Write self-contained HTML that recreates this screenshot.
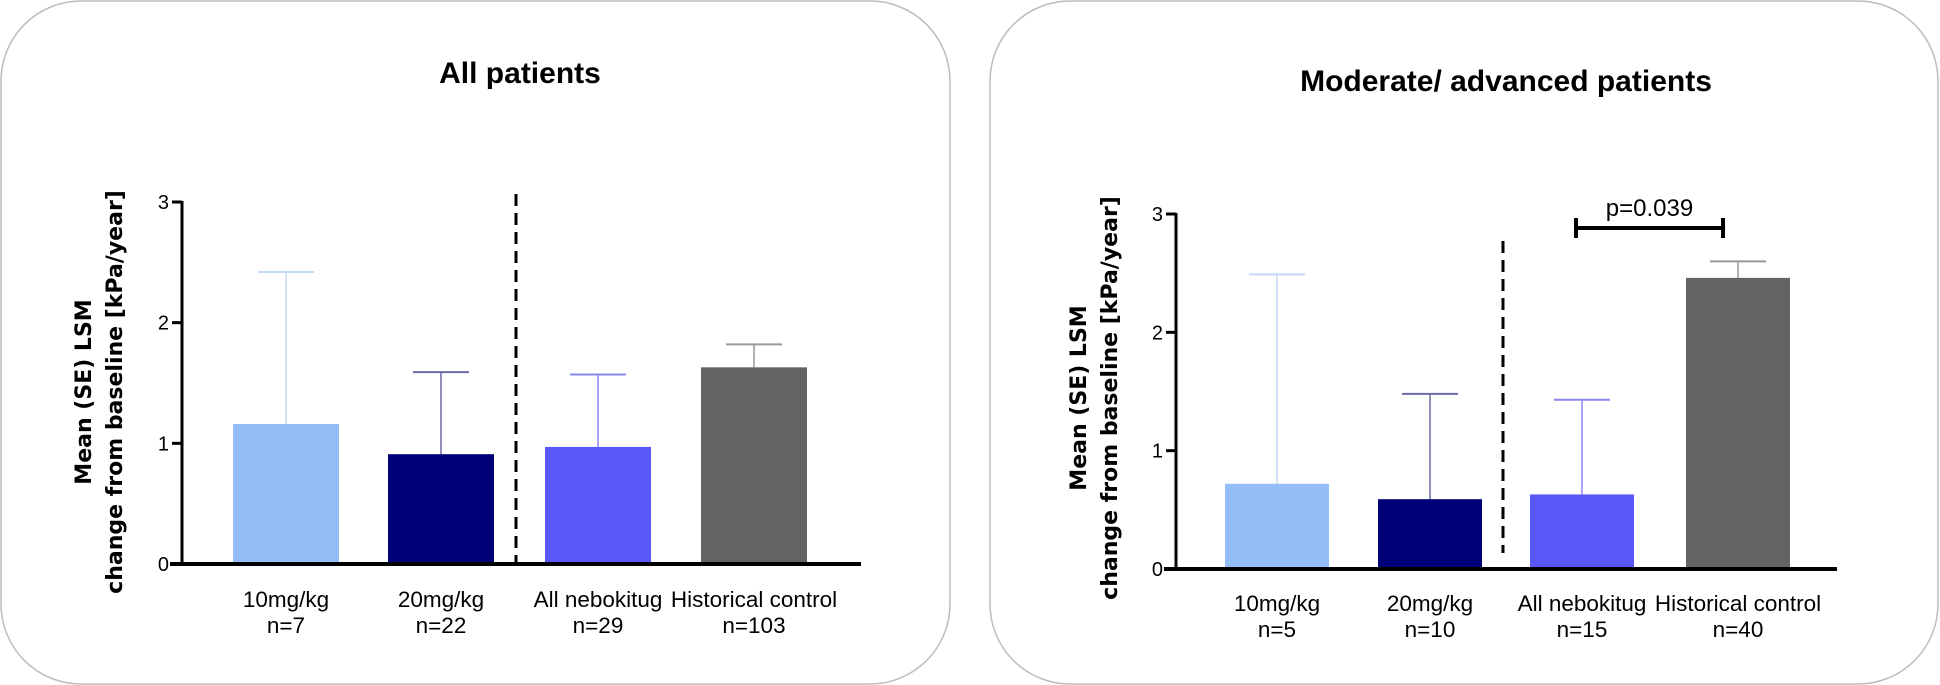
<!DOCTYPE html>
<html><head><meta charset="utf-8">
<style>
html,body{margin:0;padding:0;background:#fff;width:1940px;height:685px;overflow:hidden;}
svg{display:block;font-family:"Liberation Sans",sans-serif;}
.narrow{font-family:"Liberation Sans Narrow","Liberation Sans",sans-serif;}
</style></head>
<body>
<svg id="svg" width="1940" height="685" viewBox="0 0 1940 685">
  <rect x="1" y="1" width="949" height="683" rx="80" fill="#fff" stroke="#bdbdbd" stroke-width="1.5"/>
  <rect x="990" y="1" width="948" height="683" rx="80" fill="#fff" stroke="#bdbdbd" stroke-width="1.5"/>
  <g id="left"></g>
  <g id="right"></g>
</svg>
<script>
const categories = ["10mg/kg", "20mg/kg", "All nebokitug", "Historical control"];
const leftN = ["n=7", "n=22", "n=29", "n=103"];
const rightN = ["n=5", "n=10", "n=15", "n=40"];
const leftValues = [1.16, 0.91, 0.97, 1.63];
const leftErrTop = [2.42, 1.59, 1.57, 1.82];
const rightValues = [0.72, 0.59, 0.63, 2.46];
const rightErrTop = [2.49, 1.48, 1.43, 2.60];
const yTicks = [0, 1, 2, 3];
const pLabel = "p=0.039";

const barColors = ["#92bdf6", "#000077", "#5a57f8", "#636363"];
const errColors = ["#c5d8f5", "#6b6ba8", "#8a88f0", "#999999"];
const NS = "http://www.w3.org/2000/svg";
function mk(tag, attrs, parent) {
  const e = document.createElementNS(NS, tag);
  for (const k in attrs) e.setAttribute(k, attrs[k]);
  parent.appendChild(e);
  return e;
}

function drawChart(g, cfg) {
  const y = v => cfg.y0 - v * (cfg.y0 - cfg.y3) / 3;
  const t = mk("text", {x: cfg.titleX, y: cfg.titleY, "text-anchor": "middle", "font-size": 30, "font-weight": "bold", fill: "#000"}, g);
  t.textContent = cfg.title;
  
  
  const yl = mk("text", {transform: `translate(${cfg.ylX},${cfg.ylY}) rotate(-90)`, "text-anchor": "middle", "font-size": 22, "font-weight": "bold", fill: "#000", "font-family": "'DejaVu Sans', sans-serif"}, g);
  
  
  const s1 = mk("tspan", {x: 0, y: 0}, yl); s1.textContent = "Mean (SE) LSM";
  const s2 = mk("tspan", {x: 0, y: 31}, yl); s2.textContent = "change from baseline [kPa/year]";
  cfg.values.forEach((v, i) => {
    const x = cfg.barX[i];
    const w = cfg.barW;
    const cx = x + w / 2;
    const e = mk("line", {x1: cx, x2: cx, y1: y(v), y2: y(cfg.err[i]), stroke: errColors[i], "stroke-width": 1.5}, g);
    
    
    const c = mk("line", {x1: cx - 28, x2: cx + 28, y1: y(cfg.err[i]), y2: y(cfg.err[i]), stroke: errColors[i], "stroke-width": 2}, g);
    
    
    const r = mk("rect", {x: x, y: y(v), width: w, height: cfg.y0 - y(v), fill: barColors[i]}, g);
    
    
    const l1 = mk("text", {x: cx, y: cfg.catY, "text-anchor": "middle", "font-size": 22.5, fill: "#000", class: "narrow"}, g);
    l1.textContent = categories[i];
    
    
    const l2 = mk("text", {x: cx, y: cfg.catY + 26, "text-anchor": "middle", "font-size": 22.5, fill: "#000", class: "narrow"}, g);
    l2.textContent = cfg.n[i];
    
    
  });
  const ya = mk("line", {x1: cfg.ax, x2: cfg.ax, y1: cfg.y3 - 1, y2: cfg.y0 + 2, stroke: "#000", "stroke-width": 3}, g);
  
  
  const xa = mk("line", {x1: cfg.ax - 12, x2: cfg.axEnd, y1: cfg.y0, y2: cfg.y0, stroke: "#000", "stroke-width": 4}, g);
  
  
  yTicks.forEach(v => {
    const tk = mk("line", {x1: cfg.ax - 10, x2: cfg.ax, y1: y(v), y2: y(v), stroke: "#000", "stroke-width": 3}, g);
    
    
    const tl = mk("text", {x: cfg.ax - 13, y: y(v) + 7, "text-anchor": "end", "font-size": 20, fill: "#000", class: "narrow"}, g);
    tl.textContent = v;
    
    
  });
  const d = mk("line", {x1: cfg.dashX, x2: cfg.dashX, y1: cfg.dashTop, y2: cfg.dashBot, stroke: "#000", "stroke-width": 3, "stroke-dasharray": "12,7"}, g);
  
  
}

drawChart(document.getElementById("left"), {
  title: "All patients", titleX: 520, titleY: 83,
  ylX: 91, ylY: 392,
  y0: 564, y3: 202, ax: 182, axEnd: 861,
  barX: [233, 388, 545, 701], barW: 106,
  values: leftValues, err: leftErrTop, n: leftN,
  catY: 607, dashX: 516, dashTop: 194, dashBot: 564
});
drawChart(document.getElementById("right"), {
  title: "Moderate/ advanced patients", titleX: 1506, titleY: 91,
  ylX: 1086, ylY: 398,
  y0: 569, y3: 214, ax: 1176, axEnd: 1837,
  barX: [1225, 1378, 1530, 1686], barW: 104,
  values: rightValues, err: rightErrTop, n: rightN,
  catY: 611, dashX: 1503, dashTop: 241, dashBot: 553
});

const rg = document.getElementById("right");
const bx1 = 1576, bx2 = 1723, by = 228;
const bl = mk("path", {d: `M${bx1},${by-10} V${by+10} M${bx1},${by} H${bx2} M${bx2},${by-10} V${by+10}`, stroke: "#000", "stroke-width": 4, fill: "none"}, rg);


const pt = mk("text", {x: (bx1 + bx2) / 2, y: 216, "text-anchor": "middle", "font-size": 24, fill: "#000", class: "narrow"}, rg);
pt.textContent = pLabel;


</script>
</body></html>
